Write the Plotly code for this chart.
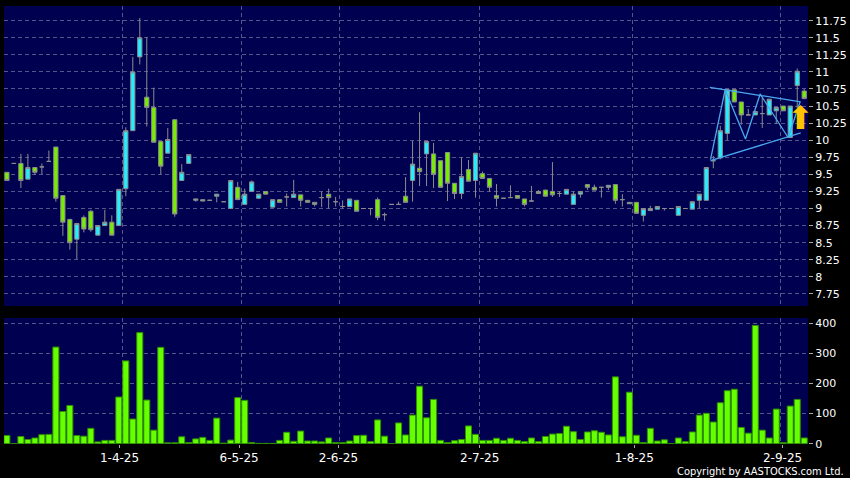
import plotly.graph_objects as go

# ---------------- data (slot index = trading day) ----------------
opens = [9.53, 9.66, 9.66, 9.43, 9.60, 9.61, 9.69, 9.90, 9.19, 8.84,
         8.55, 8.87, 8.96, 8.61, 8.75, 8.80, 8.75, 9.29, 10.14, 11.22,
         10.63, 10.48, 9.98, 9.81, 10.30, 9.41, 9.66, 9.12, 9.13, 9.12,
         9.18, 9.10, 9.00, 9.31, 9.06, 9.25, 9.15, 9.25, 9.02, 9.13,
         9.17, 9.16, 9.20, 9.12, 9.09, 9.16, 9.21, 9.10, 9.03, 9.03,
         9.12, 9.00, 9.00, 9.13, 8.91, 9.06, 9.06, 9.18, 9.41, 9.59,
         9.80, 9.80, 9.70, 9.82, 9.37, 9.22, 9.57, 9.41, 9.51, 9.44,
         9.19, 9.15, 9.16, 9.19, 9.14, 9.11, 9.25, 9.27, 9.25, 9.22,
         9.21, 9.06, 9.21, 9.35, 9.31, 9.31, 9.31, 9.35, 9.13, 9.07,
         9.09, 8.90, 8.97, 8.99, 9.00, 9.00, 8.90, 9.00, 8.99, 9.12,
         9.12, 9.70, 9.74, 10.10, 10.74, 10.56, 10.37, 10.37, 10.39, 10.37,
         10.43, 10.50, 10.04, 10.80, 10.72]
highs = [9.53, 9.66, 9.80, 9.80, 9.60, 9.66, 9.85, 9.90, 9.19, 8.85,
         8.79, 8.90, 8.98, 8.75, 8.98, 8.90, 9.28, 10.19, 11.22, 11.79,
         11.51, 10.77, 9.98, 10.18, 10.30, 9.65, 9.79, 9.14, 9.13, 9.12,
         9.21, 9.10, 9.41, 9.39, 9.29, 9.41, 9.21, 9.25, 9.13, 9.13,
         9.22, 9.42, 9.20, 9.12, 9.09, 9.25, 9.29, 9.17, 9.12, 9.14,
         9.12, 9.00, 9.00, 9.16, 8.94, 9.06, 9.10, 9.46, 9.99, 10.41,
         9.98, 9.96, 9.70, 9.82, 9.37, 9.75, 9.71, 9.81, 9.54, 9.44,
         9.36, 9.15, 9.34, 9.19, 9.14, 9.33, 9.27, 9.27, 9.68, 9.25,
         9.28, 9.25, 9.25, 9.35, 9.35, 9.31, 9.34, 9.35, 9.21, 9.09,
         9.09, 9.00, 9.04, 9.03, 9.00, 9.00, 9.03, 9.00, 9.10, 9.21,
         9.60, 9.77, 10.21, 10.75, 10.74, 10.56, 10.46, 10.42, 10.62, 10.60,
         10.48, 10.50, 10.50, 11.05, 10.75]
lows = [9.41, 9.66, 9.30, 9.43, 9.49, 9.50, 9.69, 9.10, 8.60, 8.40,
        8.26, 8.65, 8.66, 8.61, 8.75, 8.61, 8.75, 9.18, 10.14, 11.11,
        10.20, 9.97, 9.50, 9.81, 8.88, 9.41, 9.66, 9.10, 9.11, 9.12,
        9.09, 9.10, 9.00, 9.13, 9.06, 9.25, 9.15, 9.21, 9.02, 9.09,
        9.03, 9.16, 9.03, 9.09, 9.03, 9.02, 9.00, 9.03, 9.00, 9.03,
        8.96, 9.00, 8.90, 8.83, 8.82, 9.06, 9.06, 9.09, 9.10, 9.33,
        9.33, 9.30, 9.31, 9.11, 9.14, 9.14, 9.40, 9.16, 9.44, 9.25,
        9.03, 9.15, 9.16, 9.15, 9.03, 9.11, 9.22, 9.18, 9.17, 9.17,
        9.21, 9.06, 9.16, 9.27, 9.27, 9.16, 9.27, 9.07, 9.03, 9.07,
        8.93, 8.81, 8.97, 8.99, 8.97, 9.00, 8.90, 9.00, 8.99, 9.00,
        9.12, 9.59, 9.72, 10.00, 10.56, 10.23, 10.37, 10.37, 10.18, 10.37,
        10.24, 10.43, 10.04, 10.47, 10.60]
closes = [9.41, 9.66, 9.41, 9.60, 9.53, 9.61, 9.69, 9.15, 8.80, 8.50,
          8.78, 8.70, 8.69, 8.75, 8.80, 8.61, 9.28, 10.14, 11.00, 11.50,
          10.48, 9.97, 9.62, 10.01, 8.92, 9.53, 9.79, 9.14, 9.11, 9.12,
          9.21, 9.10, 9.41, 9.13, 9.21, 9.39, 9.21, 9.21, 9.13, 9.09,
          9.17, 9.21, 9.12, 9.09, 9.06, 9.16, 9.16, 9.10, 9.03, 9.14,
          8.96, 9.00, 9.00, 8.87, 8.91, 9.06, 9.06, 9.09, 9.65, 9.54,
          9.98, 9.50, 9.31, 9.37, 9.22, 9.47, 9.40, 9.81, 9.44, 9.31,
          9.15, 9.15, 9.16, 9.15, 9.06, 9.11, 9.22, 9.18, 9.20, 9.22,
          9.28, 9.21, 9.25, 9.31, 9.27, 9.31, 9.34, 9.12, 9.13, 9.09,
          8.93, 9.00, 9.00, 9.03, 9.00, 9.00, 9.03, 9.00, 9.10, 9.21,
          9.60, 9.70, 10.14, 10.74, 10.56, 10.37, 10.37, 10.42, 10.39, 10.60,
          10.48, 10.43, 10.50, 11.01, 10.61]
volumes = [27, 0, 24, 14, 19, 30, 31, 321, 107, 127,
           27, 25, 51, 6, 11, 11, 155, 275, 82, 369,
           145, 45, 320, 3, 3, 23, 4, 16, 21, 11,
           85, 2, 12, 153, 144, 4, 1, 1, 1, 11,
           38, 8, 42, 9, 9, 6, 19, 4, 4, 9,
           27, 28, 7, 79, 25, 0, 69, 29, 95, 191,
           86, 147, 11, 4, 10, 14, 59, 31, 11, 11,
           18, 11, 18, 11, 7, 19, 7, 24, 32, 34,
           58, 40, 14, 39, 43, 38, 29, 222, 23, 171,
           28, 4, 51, 9, 13, 0, 19, 7, 39, 95,
           101, 72, 136, 176, 181, 54, 35, 393, 45, 19,
           115, 4, 125, 147, 19]
slots = list(range(len(closes)))

# date tick labels (slot positions) and month-boundary grid positions
date_tick_slots = [16.1, 33.2, 47.4, 67.6, 89.7, 110.9]
date_tick_labels = ["1-4-25", "6-5-25", "2-6-25", "2-7-25", "1-8-25", "2-9-25"]
month_grid_slots = [16.5, 33.5, 47.5, 67.5, 89.5, 110.6]

price_ticks = [11.75, 11.5, 11.25, 11, 10.75, 10.5, 10.25, 10, 9.75, 9.5,
               9.25, 9, 8.75, 8.5, 8.25, 8, 7.75]
price_tick_text = ["11.75", "11.5", "11.25", "11", "10.75", "10.5", "10.25", "10",
                   "9.75", "9.5", "9.25", "9", "8.75", "8.5", "8.25", "8", "7.75"]
volume_ticks = [0, 100, 200, 300, 400]

# symmetrical triangle drawing
tri_upper_x = [100.5, 113.5]
tri_upper_y = [10.775, 10.56]
tri_lower_x = [100.6, 113.5]
tri_lower_y = [9.70, 10.106]
zigzag_x = [100.6, 102.7, 105.6, 107.7, 111.7, 113.4]
zigzag_y = [9.715, 10.74, 10.018, 10.677, 10.04, 10.56]
breakout_x = 113.5
breakout_y = 10.33

# ---------------- styling ----------------
NAVY = "#000050"
GRID = "#55558a"
CYAN = "#22eeff"
GREEN = "#77ee00"
VGREEN = "#66ff00"
WICK = "#8c8c8c"
TRI = "#4aa8ee"
FONT = "DejaVu Sans"

fig = go.Figure()

fig.add_trace(go.Candlestick(
    x=slots, open=opens, high=highs, low=lows, close=closes,
    increasing=dict(fillcolor=CYAN, line=dict(color=WICK, width=1)),
    decreasing=dict(fillcolor=GREEN, line=dict(color=WICK, width=1)),
    whiskerwidth=0, xaxis="x", yaxis="y", showlegend=False, hoverinfo="skip",
))

for xs, ys in [(tri_upper_x, tri_upper_y), (tri_lower_x, tri_lower_y), (zigzag_x, zigzag_y)]:
    fig.add_trace(go.Scatter(x=xs, y=ys, mode="lines", line=dict(color=TRI, width=1.3),
                             xaxis="x", yaxis="y", showlegend=False, hoverinfo="skip"))

fig.add_trace(go.Bar(
    x=slots, y=volumes, marker=dict(color=VGREEN, line=dict(color="#2f8f00", width=1)),
    xaxis="x2", yaxis="y2", showlegend=False, hoverinfo="skip",
))

xrange = [-0.415, 114.54]
grid_common = dict(gridcolor=GRID, griddash="4px,3px", gridwidth=1)

fig.update_layout(
    width=850, height=478,
    margin=dict(l=4, r=42, t=6, b=34),
    paper_bgcolor="#000000", plot_bgcolor=NAVY,
    font=dict(family=FONT, size=11, color="#ffffff"),
    boxgap=0.14, bargap=0.14,
    xaxis=dict(domain=[0, 1], range=xrange, showticklabels=False, ticks="",
               showgrid=False, zeroline=False, rangeslider=dict(visible=False),
               anchor="y",
               minor=dict(tickmode="array", tickvals=month_grid_slots, showgrid=True,
                          ticks="", **grid_common)),
    yaxis=dict(domain=[0.3151, 1], range=[7.573, 11.965], side="right",
               tickmode="array", tickvals=price_ticks, ticktext=price_tick_text,
               ticks="outside", ticklen=4, tickcolor="#aaaaaa",
               showgrid=True, zeroline=False, anchor="x", **grid_common),
    xaxis2=dict(domain=[0, 1], range=xrange, anchor="y2",
                tickmode="array", tickvals=date_tick_slots, ticktext=date_tick_labels,
                ticks="outside", ticklen=3, tickcolor="#aaaaaa",
                tickfont=dict(size=12),
                showgrid=False, zeroline=False,
                minor=dict(tickmode="array", tickvals=month_grid_slots, showgrid=True,
                           ticks="", **grid_common)),
    yaxis2=dict(domain=[0, 0.2877], range=[-1, 417.6], side="right", anchor="x2",
                tickmode="array", tickvals=volume_ticks,
                ticks="outside", ticklen=4, tickcolor="#aaaaaa",
                showgrid=True, zeroline=False, **grid_common),
)

fig.add_annotation(x=breakout_x, y=breakout_y, xref="x", yref="y", text="⬆",
                   showarrow=False, font=dict(size=32, color="#ffc400", family=FONT))

fig.add_annotation(x=1.047, y=-0.062, xref="paper", yref="paper", xanchor="right",
                   yanchor="middle", text="Copyright by AASTOCKS.com Ltd.", showarrow=False,
                   font=dict(size=11, color="#ffffff", family="DejaVu Sans Condensed, DejaVu Sans"))

fig.write_html("out.html", config={"displayModeBar": False, "staticPlot": True},
               post_script="document.body.style.margin='0';document.body.style.overflow='hidden';")
